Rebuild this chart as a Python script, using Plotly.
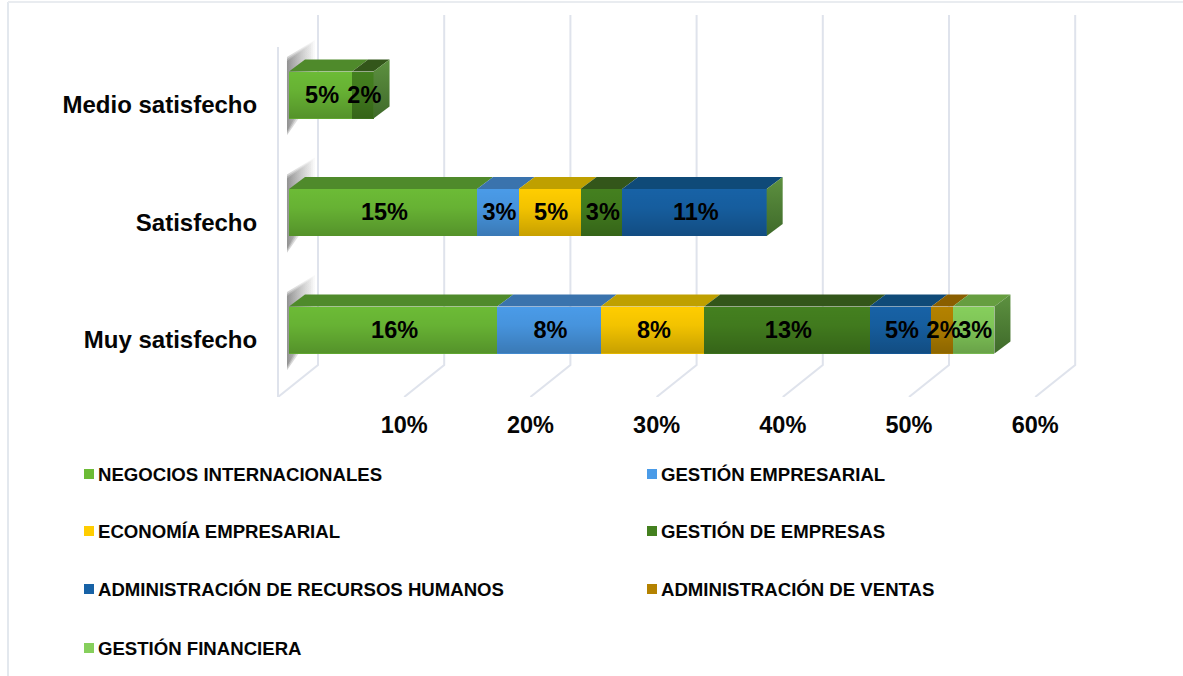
"""Stacked horizontal bars with a 3D look: satisfaction by degree programme."""

import plotly.graph_objects as go

categories = ["Muy satisfecho", "Satisfecho", "Medio satisfecho"]
series_names = [
    "NEGOCIOS INTERNACIONALES",
    "GESTIÓN EMPRESARIAL",
    "ECONOMÍA EMPRESARIAL",
    "GESTIÓN DE EMPRESAS",
    "ADMINISTRACIÓN DE RECURSOS HUMANOS",
    "ADMINISTRACIÓN DE VENTAS",
    "GESTIÓN FINANCIERA",
]
negocios = [16.5, 14.9, 5.0]
gestion_emp = [8.2, 3.3, 0]
economia = [8.2, 4.9, 0]
gestion_de = [13.1, 3.3, 1.7]
recursos = [4.9, 11.45, 0]
ventas = [1.7, 0, 0]
financiera = [3.3, 0, 0]
series_values = [negocios, gestion_emp, economia, gestion_de, recursos, ventas, financiera]
x_ticks = [10, 20, 30, 40, 50, 60]

front_colors = ["#6cbb36", "#4a9be8", "#ffcd00", "#44801f", "#1762a6", "#b48200", "#86cf5c"]
top_colors = ["#4f8a2b", "#3a73ad", "#bfa000", "#33561a", "#0f4a78", "#8a5f00", "#669e40"]
grid_color = "#dfe3ec"
text_color = "#050505"
FONT = "Liberation Sans, Arial, sans-serif"

# page geometry in pixels
W, H = 1183, 676
PLOT_L, PLOT_R, PLOT_T, PLOT_B = 277, 1100, 3, 397
PX_PER_PCT = 12.62
PX_PER_ROW = 117.5
BAR_H = 0.4

# oblique offsets of the depth effect, in axis units
WALL_DX = 40 / PX_PER_PCT
WALL_DY = 32 / PX_PER_ROW
BAR_DX = 16 / PX_PER_PCT
BAR_DY = 12 / PX_PER_ROW
WALL_H = 350 / PX_PER_ROW


def x_range(zero_px):
    return [(PLOT_L - zero_px) / PX_PER_PCT, (PLOT_R - zero_px) / PX_PER_PCT]


def y_range(row0_px):
    return [(row0_px - PLOT_B) / PX_PER_ROW, (row0_px - PLOT_T) / PX_PER_ROW]


def paper_x(px):
    return (px - PLOT_L) / (PLOT_R - PLOT_L)


def paper_y(py):
    return (PLOT_B - py) / (PLOT_B - PLOT_T)


fig = go.Figure()

floor_y = y_range(340)[0]

# walls and floor lines, on the front plane axes
for t in [0] + x_ticks:
    fig.add_trace(go.Scatter(
        x=[t, t + WALL_DX, t + WALL_DX],
        y=[floor_y, floor_y + WALL_DY, floor_y + WALL_DY + WALL_H],
        mode="lines", line=dict(color=grid_color, width=2),
        hoverinfo="skip", showlegend=False,
    ))
fig.add_trace(go.Scatter(
    x=[0, 0], y=[floor_y, floor_y + WALL_H],
    mode="lines", line=dict(color=grid_color, width=2),
    hoverinfo="skip", showlegend=False,
))

# bar shadows on the left wall, a few grown copies to soften the edge
for i in range(len(categories)):
    sx = 11 / PX_PER_PCT
    sy = i + 10 / PX_PER_ROW
    for grow in [5, 3, 1]:
        gx = grow / PX_PER_PCT
        gy = grow / PX_PER_ROW
        fig.add_trace(go.Scatter(
            x=[sx - 0.16, sx + 1.66 + gx, sx + 1.66 + gx, sx - 0.16, sx - 0.16],
            y=[sy + 0.28 + gy, sy + 0.425 + gy, sy + 0.04 - gy, sy - 0.30 - gy, sy + 0.28 + gy],
            mode="lines", line=dict(width=0), fill="toself",
            fillgradient=dict(
                type="horizontal",
                colorscale=[[0, "rgba(80,80,80,0.28)"], [1, "rgba(150,150,150,0.05)"]],
            ),
            hoverinfo="skip", showlegend=False,
        ))

# front faces
for name, vals, color in zip(series_names, series_values, front_colors):
    fig.add_trace(go.Bar(
        y=list(range(len(categories))), x=vals, name=name, orientation="h",
        width=BAR_H, marker=dict(color=color, line=dict(width=0)),
        xaxis="x2", yaxis="y2", showlegend=False,
    ))

# top faces, vertical shading and end faces, worked out from the stacked values
label_x, label_y, label_text = [], [], []
for i in range(len(categories)):
    start = 0
    top = i + BAR_H / 2
    low = i - BAR_H / 2
    for vals, color in zip(series_values, top_colors):
        end = start + vals[i]
        if vals[i]:
            fig.add_trace(go.Scatter(
                x=[start, end, end + BAR_DX, start + BAR_DX, start],
                y=[top, top, top + BAR_DY, top + BAR_DY, top],
                mode="lines", line=dict(width=0), fill="toself", fillcolor=color,
                hoverinfo="skip", showlegend=False, xaxis="x2", yaxis="y2",
            ))
            label_x.append((start + end) / 2 + 1.5 / PX_PER_PCT)
            label_y.append(i - 2 / PX_PER_ROW)
            label_text.append(f"{round(vals[i])}%")
        start = end
    fig.add_trace(go.Scatter(
        x=[0, start, start, 0, 0], y=[top, top, low, low, top],
        mode="lines", line=dict(width=0), fill="toself",
        fillgradient=dict(
            type="vertical",
            colorscale=[[0, "rgba(0,0,0,0.22)"], [0.6, "rgba(0,0,0,0.05)"], [1, "rgba(0,0,0,0)"]],
        ),
        hoverinfo="skip", showlegend=False, xaxis="x2", yaxis="y2",
    ))
    fig.add_trace(go.Scatter(
        x=[start, start + BAR_DX, start + BAR_DX, start, start],
        y=[top, top + BAR_DY, low + BAR_DY, low, top],
        mode="lines", line=dict(width=0), fill="toself",
        fillgradient=dict(
            type="vertical",
            colorscale=[[0, "#3f6a2a"], [1, "#5d9140"]],
        ),
        hoverinfo="skip", showlegend=False, xaxis="x2", yaxis="y2",
    ))

# data labels sit over every face, as in the original
fig.add_trace(go.Scatter(
    x=label_x, y=label_y, text=label_text, mode="text", textposition="middle center",
    textfont=dict(family=FONT, size=23.5, color="#000000", weight="bold"),
    hoverinfo="skip", showlegend=False, xaxis="x2", yaxis="y2", cliponaxis=False,
))

# legend drawn by hand: two columns of small squares and bold labels
legend_cols = [84, 647]
legend_rows = [474, 531, 589, 648]
shapes = [
    dict(type="line", xref="paper", yref="paper", x0=paper_x(8), x1=paper_x(8),
         y0=paper_y(2), y1=paper_y(H), line=dict(color="#e3e8ee", width=2)),
    dict(type="line", xref="paper", yref="paper", x0=paper_x(8), x1=paper_x(W),
         y0=paper_y(2), y1=paper_y(2), line=dict(color="#e9ecf0", width=2)),
]
annotations = []
for k, (name, color) in enumerate(zip(series_names, front_colors)):
    lx = legend_cols[k % 2]
    ly = legend_rows[k // 2]
    shapes.append(dict(
        type="rect", xref="paper", yref="paper",
        x0=paper_x(lx), x1=paper_x(lx + 10), y0=paper_y(ly + 5), y1=paper_y(ly - 5),
        fillcolor=color, line=dict(width=0),
    ))
    annotations.append(dict(
        text=f"<b>{name}</b>", xref="paper", yref="paper",
        x=paper_x(lx + 12), y=paper_y(ly), xanchor="left", yanchor="middle",
        showarrow=False, font=dict(family=FONT, size=18.6, color=text_color),
    ))

fig.update_layout(
    width=W, height=H, barmode="stack",
    margin=dict(l=PLOT_L, r=W - PLOT_R, t=PLOT_T, b=H - PLOT_B, pad=0),
    paper_bgcolor="white", plot_bgcolor="rgba(0,0,0,0)",
    shapes=shapes, annotations=annotations, showlegend=False,
    xaxis=dict(
        range=x_range(278), tickvals=x_ticks, ticktext=[f"{t}%" for t in x_ticks],
        showgrid=False, zeroline=False, showline=False,
        ticks="outside", ticklen=7, tickcolor="rgba(0,0,0,0)",
        tickfont=dict(family=FONT, size=23.5, color=text_color, weight="bold"),
    ),
    yaxis=dict(
        range=y_range(340), tickvals=list(range(len(categories))), ticktext=categories,
        showgrid=False, zeroline=False, showline=False,
        ticks="outside", ticklen=14, tickcolor="rgba(0,0,0,0)",
        tickfont=dict(family=FONT, size=24, color=text_color, weight="bold"),
    ),
    xaxis2=dict(range=x_range(289), overlaying="x", visible=False),
    yaxis2=dict(range=y_range(330), overlaying="y", visible=False),
)

fig.write_html(
    "out.html",
    config={"displayModeBar": False},
    post_script="document.body.style.margin = '0';",
)
